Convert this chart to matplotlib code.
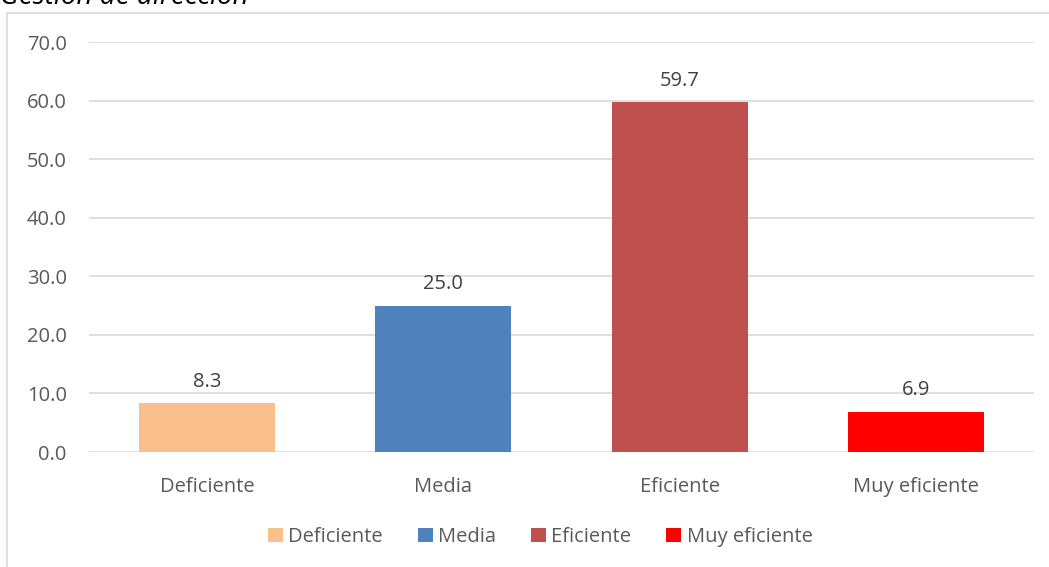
import matplotlib.pyplot as plt
from matplotlib.patches import Rectangle, Patch

categorias = ["Deficiente", "Media", "Eficiente", "Muy eficiente"]
valores = [8.3, 25.0, 59.7, 6.9]
colores = ["#F9C08E", "#4F81BD", "#C0504D", "#FF0000"]
yticks = [0, 10, 20, 30, 40, 50, 60, 70]

plt.rcParams['font.family'] = ['Open Sans', 'DejaVu Sans']

fig = plt.figure(figsize=(10.49, 5.67), dpi=100)
W, H = 1049, 567

# borde del area del grafico
fig.patches.append(Rectangle((7 / W, -0.1), 1.2, 1 - 13 / H + 0.1,
                             transform=fig.transFigure, fill=False,
                             edgecolor="#D9D9D9", linewidth=1.2))

# titulo cortado arriba
fig.text(0.0, 1 - 4 / H, "Gestión de dirección", fontsize=20, style="italic",
         color="black", va="baseline", ha="left")

ax = fig.add_axes([89 / W, 1 - 452 / H, (1034 - 89) / W, (452 - 42) / H])
x = range(len(categorias))
ax.bar(x, valores, width=0.576, color=colores, zorder=2)
for xi, v in zip(x, valores):
    ax.text(xi, v + 2.0, f"{v:.1f}", ha="center", va="bottom", fontsize=14.5, color="#404040")

ax.set_xlim(-0.5, len(categorias) - 0.5)
ax.set_ylim(0, 70)
ax.set_yticks(yticks)
ax.set_yticklabels([f"{t:.1f}" for t in yticks])
ax.set_xticks(list(x))
ax.set_xticklabels(categorias)
ax.tick_params(axis="both", length=0, labelsize=14.5, labelcolor="#595959")
ax.tick_params(axis="y", pad=16)
ax.tick_params(axis="x", pad=18)
ax.yaxis.grid(True, color="#D9D9D9", linewidth=1.2, zorder=0)
for s in ax.spines.values():
    s.set_visible(False)

handles = [Patch(facecolor=c, label=l) for c, l in zip(colores, categorias)]
fig.legend(handles=handles, loc="center", bbox_to_anchor=(540 / W, 1 - 537 / H), ncol=4,
           frameon=False, fontsize=14.5, handlelength=0.75, handleheight=0.75,
           handletextpad=0.25, columnspacing=1.75, labelcolor="#595959")

fig.savefig("out.png", dpi=100)
